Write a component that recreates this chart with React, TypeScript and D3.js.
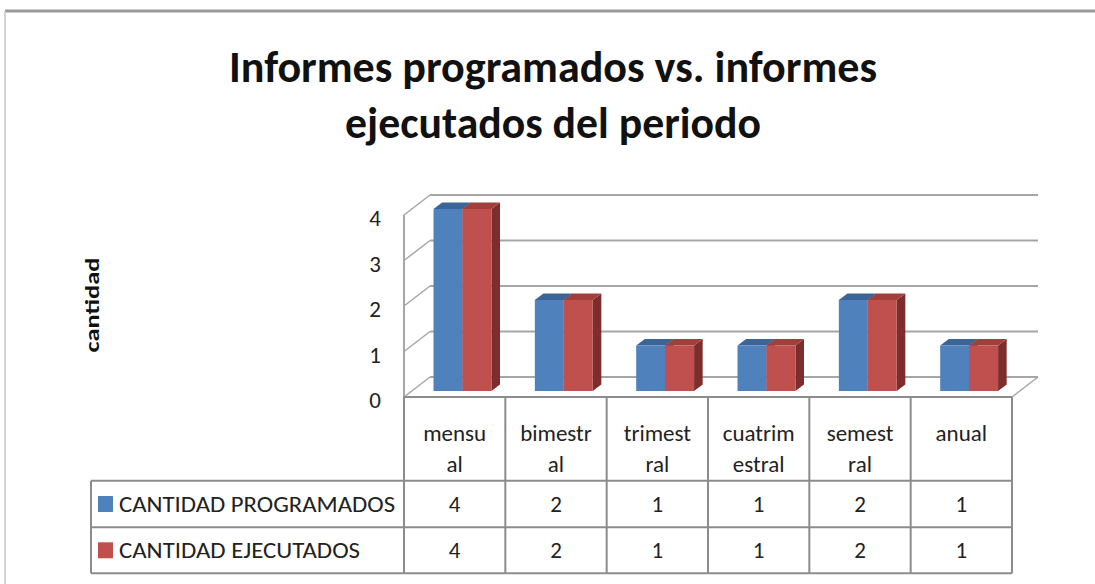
import React from 'react';
import * as d3 from 'd3';

const categories = ['mensual', 'bimestral', 'trimestral', 'cuatrimestral', 'semestral', 'anual'];
// how the table header breaks each category name
const categoryLines = [['mensu', 'al'], ['bimestr', 'al'], ['trimest', 'ral'], ['cuatrim', 'estral'], ['semest', 'ral'], ['anual']];
const seriesNames = ['CANTIDAD PROGRAMADOS', 'CANTIDAD EJECUTADOS'];
const programados = [4, 2, 1, 1, 2, 1];
const ejecutados = [4, 2, 1, 1, 2, 1];
const yTicks = [0, 1, 2, 3, 4];
const titleLines = ['Informes programados vs. informes', 'ejecutados del periodo'];
const yTitle = 'cantidad';

const colors = {
  front: ['#4f81bd', '#c0504d'],
  top: ['#3b6597', '#a03f3c'],
  side: ['#34598a', '#7d2e2c'],
};

const W = 1095;
const H = 584;
const font = 'Carlito, Lato, "Open Sans", sans-serif';

const App = () => {
  const series = [programados, ejecutados];

  // front plane of the 3D box
  const x0 = 404, x1 = 1012;
  const depthX = 26, depthY = -20;
  const yBack = d3.scaleLinear().domain([0, 4]).range([377, 195]);
  // project a point at front x, value v and depth f (0 front, 1 back)
  const px = (x, f) => x + f * depthX;
  const py = (v, f) => yBack(v) - (1 - f) * depthY;

  const xBand = d3.scaleBand().domain(categories).range([x0, x1]).padding(0);
  const xSub = d3.scaleBand().domain(seriesNames).range([0, xBand.bandwidth()]).paddingInner(0).paddingOuter(0.75);
  const fFront = 0.3, fBack = 0.63;

  const rowTop = 397, row1 = 480.7, row2 = 527.3, row3 = 573.3;
  const legendX = 91;

  const bars = [];
  categories.forEach((c, i) => {
    series.forEach((vals, s) => {
      const v = vals[i];
      const xa = xBand(c) + xSub(seriesNames[s]);
      const xb = xa + xSub.bandwidth();
      const fx0 = px(xa, fFront), fx1 = px(xb, fFront);
      const bx0 = px(xa, fBack), bx1 = px(xb, fBack);
      const ft = py(v, fFront), fb = py(0, fFront);
      const bt = py(v, fBack), bb = py(0, fBack);
      bars.push(
        <g key={c + s}>
          <path d={`M${fx1},${fb}L${fx1},${ft}L${bx1},${bt}L${bx1},${bb}Z`} fill={colors.side[s]} />
          <path d={`M${fx0},${ft}L${fx1},${ft}L${bx1},${bt}L${bx0},${bt}Z`} fill={colors.top[s]} />
          <rect x={fx0} y={ft} width={fx1 - fx0} height={fb - ft} fill={colors.front[s]} />
        </g>
      );
    });
  });

  const grid = '#a6a6a6';
  const tableLine = '#8c8c8c';

  return (
    <svg width={W} height={H} style={{ position: 'absolute', left: 0, top: 0, background: '#fff' }} fontFamily={font}>
      <rect x={0} y={0} width={W} height={H} fill="#fff" />
      <line x1={5} y1={11} x2={W} y2={11} stroke="#9a9a9a" strokeWidth={3} />
      <line x1={5} y1={11} x2={5} y2={H} stroke="#c4c4c4" strokeWidth={1.5} />

      {titleLines.map((t, i) => (
        <text key={t} x={553} y={82 + i * 56} textAnchor="middle" fontSize={45} fontWeight="bold" fill="#111"
          textLength={i === 0 ? 648 : 416} lengthAdjust="spacingAndGlyphs">{t}</text>
      ))}

      <text transform="translate(99,305) rotate(-90)" textAnchor="middle" fontSize={21} fontWeight="bold" fill="#111"
        textLength={95} lengthAdjust="spacingAndGlyphs">{yTitle}</text>

      {/* back wall and left wall gridlines */}
      {yTicks.map(t => (
        <g key={t}>
          <line x1={px(x0, 1)} y1={py(t, 1)} x2={px(x1, 1)} y2={py(t, 1)} stroke={grid} strokeWidth={2} />
          <line x1={x0} y1={py(t, 0)} x2={px(x0, 1)} y2={py(t, 1)} stroke={grid} strokeWidth={1.5} />
          <text x={381} y={py(t, 0) + 3} textAnchor="end" dominantBaseline="central" fontSize={23} fill="#222">{t}</text>
        </g>
      ))}
      <line x1={x0} y1={py(4, 0)} x2={x0} y2={py(0, 0)} stroke={grid} strokeWidth={2} />
      <line x1={x1} y1={py(0, 0)} x2={px(x1, 1)} y2={py(0, 1)} stroke={grid} strokeWidth={1.5} />

      {bars}

      {/* data table */}
      <g stroke={tableLine} strokeWidth={2}>
        <line x1={x0} y1={rowTop} x2={x1} y2={rowTop} />
        {[row1, row2, row3].map(y => <line key={y} x1={legendX} y1={y} x2={x1} y2={y} />)}
        <line x1={legendX} y1={row1} x2={legendX} y2={row3} />
        {categories.map(c => <line key={c} x1={xBand(c)} y1={rowTop} x2={xBand(c)} y2={row3} />)}
        <line x1={x1} y1={rowTop} x2={x1} y2={row3} />
      </g>

      {categories.map((c, i) => {
        const cx = xBand(c) + xBand.bandwidth() / 2;
        return (
          <g key={c} fontSize={23} fill="#222" textAnchor="middle">
            {categoryLines[i].map((l, j) => (
              <text key={j} x={cx} y={441 + j * 31}>{l}</text>
            ))}
            {series.map((vals, s) => (
              <text key={s} x={cx} y={(s === 0 ? (row1 + row2) / 2 : (row2 + row3) / 2) + 8}>{vals[i]}</text>
            ))}
          </g>
        );
      })}

      {seriesNames.map((n, s) => {
        const cy = s === 0 ? (row1 + row2) / 2 : (row2 + row3) / 2;
        return (
          <g key={n}>
            <rect x={98} y={cy - 8} width={15} height={16} fill={colors.front[s]} />
            <text x={119} y={cy + 8} fontSize={22} fill="#222" textLength={s === 0 ? 276 : 241}
              lengthAdjust="spacingAndGlyphs">{n}</text>
          </g>
        );
      })}
    </svg>
  );
};

export default App;
